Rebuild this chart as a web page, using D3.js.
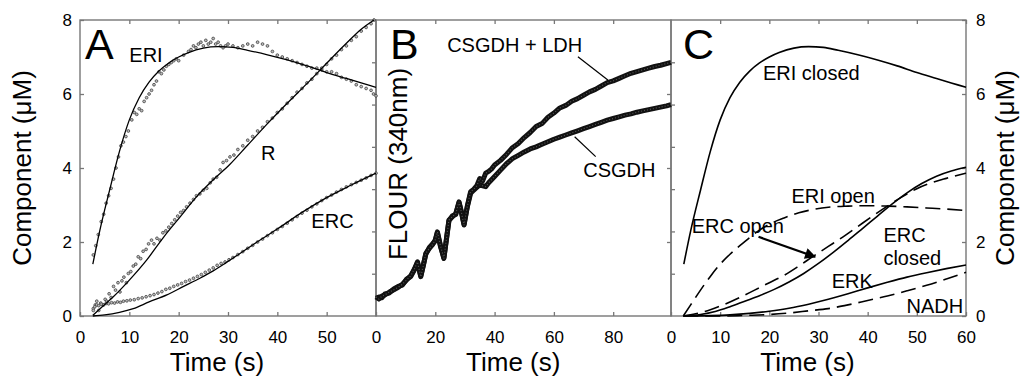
<!DOCTYPE html>
<html>
<head>
<meta charset="utf-8">
<script src="https://cdn.jsdelivr.net/npm/d3@7"></script>
<style>
  body { margin: 0; background: #fff; }
  text { font-family: "Liberation Sans", Arial, sans-serif; fill: #000; }
</style>
</head>
<body>
<svg id="chart" width="1021" height="381"></svg>
<script>
// ---- panel A: measured points [time s, µM] ----
const eriData = [[2.7,1.65],[3.2,1.9],[3.7,2.2],[4.3,2.55],[4.8,2.75],[5.3,3.05],[5.8,3.25],[6.3,3.45],[6.8,3.7],[7.3,4.0],
  [7.8,4.3],[8.3,4.6],[8.8,4.7],[9.3,4.85],[9.8,5.0],[10.5,5.3],[11,5.5],[11.5,5.45],[12,5.6],[12.5,5.55],[13,5.8],
  [13.5,5.9],[14,6.0],[14.5,6.1],[15,6.25],[15.5,6.35],[16,6.6],[16.5,6.55],[17,6.65],[17.5,6.75],[18,6.8],[18.5,6.85],
  [19,6.9],[19.5,6.95],[20,6.9],[21,7.05],[22,7.15],[22.5,7.2],[23,7.3],[23.5,7.25],[24,7.35],[24.5,7.4],[25,7.3],
  [25.5,7.45],[26,7.35],[26.5,7.4],[27,7.5],[27.5,7.35],[28,7.4],[28.5,7.3],[29,7.25],[29.5,7.3],[30,7.35],[31,7.3],
  [32,7.25],[33,7.3],[34,7.35],[35,7.3],[36,7.4],[37,7.35],[38,7.3],[39,7.15],[40,7.05],[41,7.0],[42,6.95],[43,6.9],
  [44,6.85],[45,6.8],[46,6.75],[47,6.7],[48,6.7],[49,6.65],[50,6.6],[51,6.6],[52,6.55],[53,6.45],[54,6.4],[55,6.35],
  [56,6.25],[57,6.2],[58,6.15],[59,6.1],[59.5,6.0],[60,5.95]];
const rData = [[2.7,0.2],[3.1,0.3],[3.4,0.4],[3.8,0.15],[4.2,0.35],[4.7,0.3],[5.1,0.45],[5.4,0.4],[5.9,0.6],[6.3,0.5],
  [6.8,0.8],[7.2,0.7],[7.7,0.9],[8.1,0.65],[8.5,0.95],[8.9,1.05],[9.4,0.9],[9.8,1.15],[10.3,1.2],[10.8,1.35],[11.3,1.4],
  [11.8,1.6],[12.3,1.55],[12.8,1.75],[13.4,1.8],[13.9,1.95],[14.5,2.05],[15,1.95],[15.6,2.1],[16.2,2.05],[16.8,2.25],
  [17.4,2.3],[18,2.4],[18.6,2.5],[19.2,2.6],[19.8,2.7],[20.4,2.8],[21,2.85],[21.6,2.95],[22.3,3.05],[23,3.15],
  [23.6,3.25],[24.3,3.3],[25,3.4],[25.7,3.45],[26.4,3.6],[27,3.7],[27.7,3.75],[28.4,3.95],[29,4.15],[29.7,4.2],
  [30.4,4.3],[31.2,4.35],[32,4.5],[33,4.6],[34,4.75],[35,4.85],[36,5.0],[37,5.1],[38,5.25],[39,5.35],[40,5.5],
  [41,5.6],[42,5.75],[43,5.9],[44,6.05],[45,6.15],[46,6.3],[47,6.4],[48,6.55],[49,6.7],[50,6.8],[51,6.95],[52,7.05],
  [53,7.2],[54,7.3],[55,7.45],[56,7.55],[57,7.7],[58,7.8],[59,7.9],[59.6,8.0]];
const ercData = [[2.7,0.15],[3,0.25],[3.4,0.3],[3.8,0.28],[4.3,0.32],[4.8,0.3],[5.3,0.34],[5.8,0.33],[6.4,0.36],[7,0.35],
  [7.6,0.38],[8.2,0.37],[8.8,0.4],[9.5,0.41],[10.2,0.43],[11,0.44],[11.8,0.47],[12.6,0.49],[13.4,0.52],[14.2,0.55],
  [15,0.58],[15.8,0.62],[16.6,0.66],[17.4,0.72],[18.2,0.75],[19,0.8],[19.8,0.84],[20.6,0.88],[21.4,0.93],[22.2,0.97],
  [23,1.02],[23.8,1.07],[24.6,1.12],[25.4,1.18],[26.2,1.24],[27,1.3],[27.8,1.37],[28.6,1.42],[29.4,1.46],[30.2,1.52],
  [31,1.58],[32,1.66],[33,1.74],[34,1.83],[35,1.91],[36,2.0],[37,2.08],[38,2.17],[39,2.25],[40,2.34],[41,2.42],
  [42,2.51],[43,2.6],[44,2.69],[45,2.78],[46,2.86],[47,2.95],[48,3.03],[49,3.12],[50,3.2],[51,3.27],[52,3.35],
  [53,3.42],[54,3.49],[55,3.55],[56,3.61],[57,3.67],[58,3.73],[59,3.8],[60,3.86]];

// ---- model curves (A fits, C closed/open components) ----
const eriFit = [[2.6,1.4],[4,2.3],[6,3.4],[8,4.45],[10,5.3],[12,5.9],[14,6.32],[16,6.62],[18,6.84],[20,7.0],[22,7.12],
  [25,7.24],[28,7.28],[31,7.26],[34,7.18],[38,7.06],[42,6.92],[46,6.76],[50,6.58],[54,6.42],[57,6.3],[60,6.18]];
const rFit = [[2.6,0.02],[4.5,0.25],[6.75,0.52],[10,0.97],[13.5,1.51],[17,2.14],[20.3,2.68],[23.6,3.22],[27,3.68],
  [30.4,4.1],[34,4.62],[38,5.2],[42,5.75],[46,6.28],[50,6.83],[54,7.37],[57,7.75],[59.6,8.0]];
const ercFit = [[2.6,0],[5,0.03],[8,0.1],[10.8,0.2],[14,0.38],[17.6,0.57],[21,0.8],[24.3,1.02],[27,1.22],[29.7,1.45],
  [35,1.92],[40,2.35],[45,2.8],[50,3.2],[55,3.54],[60,3.86]];
const ercClosed = [[2.5,0],[6,0.04],[9,0.12],[12,0.25],[15,0.4],[18,0.55],[21,0.72],[24,0.92],[27,1.15],[30,1.42],
  [33,1.72],[36,2.04],[39,2.37],[42,2.7],[45,3.03],[48,3.33],[51,3.58],[54,3.78],[57,3.92],[60,4.02]];
const ercOpen = [[2.5,0],[5,0.06],[8,0.17],[11,0.32],[14,0.5],[17,0.7],[20,0.9],[23,1.1],[26,1.35],[29,1.62],[32,1.88],
  [35,2.14],[38,2.42],[41,2.7],[44,2.97],[47,3.22],[50,3.44],[53,3.6],[56,3.72],[60,3.86]];
const eriOpen = [[2.5,0],[4,0.3],[6,0.7],[8,1.07],[10,1.4],[12,1.67],[14,1.9],[16,2.12],[18,2.32],[20,2.48],[23,2.65],
  [26,2.79],[29,2.88],[32,2.94],[36,2.97],[40,2.98],[44,2.97],[48,2.95],[52,2.92],[56,2.89],[60,2.85]];
const erk = [[2.5,0],[8,0.01],[12,0.03],[16,0.07],[20,0.13],[24,0.21],[28,0.32],[32,0.45],[36,0.6],[40,0.76],[44,0.91],
  [48,1.05],[52,1.17],[56,1.28],[60,1.38]];
const nadh = [[2.5,0],[10,0],[16,0.02],[20,0.04],[24,0.08],[28,0.14],[32,0.2],[36,0.3],[40,0.42],[44,0.54],[48,0.68],
  [52,0.83],[56,1.0],[60,1.18]];

// ---- panel B: fluorescence traces [time s, a.u.] ----
const csgdhLdh = [[0,0.45],[1,0.4],[2,0.47],[3,0.5],[4.4,0.56],[6,0.62],[7.5,0.68],[8.9,0.75],[10.3,0.85],[11.7,0.95],
  [13,1.12],[14,1.28],[15.1,0.93],[16,1.2],[16.8,1.48],[18,1.6],[19,1.68],[20,1.8],[20.7,1.99],[21.8,1.65],[22.9,1.36],
  [23.8,1.85],[24.6,2.27],[25.8,2.35],[26.9,2.42],[28,2.7],[28.8,2.45],[29.7,2.15],[30.8,2.6],[31.9,2.94],[33,3.0],
  [34,3.08],[35,3.25],[36,3.2],[37,3.38],[38,3.42],[39,3.48],[40,3.57],[42,3.68],[44,3.82],[46,3.98],[48,4.08],
  [50,4.22],[52,4.34],[54,4.48],[56,4.55],[58,4.7],[60,4.8],[62,4.92],[64,4.98],[66,5.08],[68,5.14],[70,5.22],
  [72,5.3],[74,5.36],[76,5.44],[78,5.52],[80,5.56],[82,5.62],[84,5.68],[86,5.74],[88,5.78],[90,5.82],[92,5.86],
  [94,5.9],[96,5.93],[98,5.97],[99.5,6.0]];
const csgdh = [[0,0.42],[1,0.45],[2,0.43],[3,0.52],[4.4,0.54],[6,0.64],[7.5,0.7],[8.9,0.73],[10.3,0.87],[11.7,0.93],
  [13,1.1],[14,1.26],[15.1,0.95],[16,1.22],[16.8,1.46],[18,1.62],[19,1.7],[20,1.78],[20.7,1.97],[21.8,1.63],[22.9,1.38],
  [23.8,1.83],[24.6,2.25],[25.8,2.37],[26.9,2.4],[28,2.68],[28.8,2.47],[29.7,2.17],[30.8,2.58],[31.9,2.9],[33,2.98],
  [34,3.04],[35,3.1],[36,3.08],[37,3.06],[38,3.15],[40,3.3],[42,3.45],[44,3.6],[46,3.72],[48,3.8],[50,3.88],[52,3.95],
  [54,4.0],[56,4.06],[58,4.12],[60,4.18],[62,4.23],[64,4.28],[66,4.33],[68,4.38],[70,4.43],[72,4.48],[74,4.53],
  [76,4.58],[78,4.63],[80,4.67],[82,4.71],[84,4.75],[86,4.78],[88,4.82],[90,4.85],[92,4.88],[94,4.91],[96,4.94],
  [98,4.97],[99.5,5.0]];

// ticks
const yTicksA = [0, 2, 4, 6, 8];
const xTicksA = [0, 10, 20, 30, 40, 50];
const xTicksB = [0, 20, 40, 60, 80];
const xTicksC = [0, 10, 20, 30, 40, 50, 60];
const yTicksB = [1, 2, 3, 4, 5, 6];

const svg = d3.select('#chart');
const plotTop = 20, plotBottom = 316;
const frameColor = '#777';

const xA = d3.scaleLinear().domain([0, 60]).range([80, 376]);
const xB = d3.scaleLinear().domain([0, 99.5]).range([376, 671]);
const xC = d3.scaleLinear().domain([0, 60]).range([671, 966]);
const yA = d3.scaleLinear().domain([0, 8]).range([plotBottom, plotTop]);
const yB = d3.scaleLinear().domain([0, 7]).range([plotBottom, plotTop]);

function styleAxis(g, labels) {
  g.select('.domain').remove();
  g.selectAll('.tick line').attr('stroke', frameColor).attr('stroke-width', 1.3);
  g.selectAll('text').style('font-size', '17px').style('font-family', '"Liberation Sans", Arial, sans-serif');
  if (!labels) g.selectAll('text').remove();
}

// bottom / top ticks
[[xA, xTicksA], [xB, xTicksB], [xC, xTicksC]].forEach(([x, ticks]) => {
  svg.append('g').attr('transform', `translate(0,${plotBottom})`)
    .call(d3.axisBottom(x).tickValues(ticks).tickSize(-4).tickPadding(15).tickFormat(d3.format('d')))
    .call(g => styleAxis(g, true));
  svg.append('g').attr('transform', `translate(0,${plotTop})`)
    .call(d3.axisTop(x).tickValues(ticks.filter(t => t > 0)).tickSize(-4))
    .call(g => styleAxis(g, false));
});

// left axis A, right axis C
svg.append('g').attr('transform', 'translate(80,0)')
  .call(d3.axisLeft(yA).tickValues(yTicksA).tickSize(-4).tickPadding(8))
  .call(g => styleAxis(g, true));
svg.append('g').attr('transform', 'translate(966,0)')
  .call(d3.axisRight(yA).tickValues(yTicksA).tickSize(-4).tickPadding(10))
  .call(g => styleAxis(g, true));

// unlabeled ticks on the shared borders
svg.append('g').attr('transform', 'translate(376,0)')
  .call(d3.axisLeft(yB).tickValues(yTicksB).tickSize(4))
  .call(g => styleAxis(g, false));
svg.append('g').attr('transform', 'translate(671,0)')
  .call(d3.axisRight(yB).tickValues(yTicksB).tickSize(4))
  .call(g => styleAxis(g, false));
svg.append('g').attr('transform', 'translate(671,0)')
  .call(d3.axisLeft(yA).tickValues([2, 4, 6]).tickSize(4))
  .call(g => styleAxis(g, false));

// frames
[[80, 376], [376, 671], [671, 966]].forEach(([l, r]) => {
  svg.append('rect').attr('x', l).attr('y', plotTop).attr('width', r - l).attr('height', plotBottom - plotTop)
    .attr('fill', 'none').attr('stroke', frameColor).attr('stroke-width', 1.4);
});

// ---- panel A ----
const lineA = d3.line().x(d => xA(d[0])).y(d => yA(d[1])).curve(d3.curveMonotoneX);
[eriData, rData, ercData].forEach(data => {
  svg.append('g').selectAll('circle').data(data).enter().append('circle')
    .attr('cx', d => xA(d[0])).attr('cy', d => yA(d[1])).attr('r', 1.4)
    .attr('fill', '#bbb').attr('stroke', '#333').attr('stroke-width', 0.7);
});
[eriFit, rFit, ercFit].forEach(data => {
  svg.append('path').datum(data).attr('d', lineA)
    .attr('fill', 'none').attr('stroke', '#000').attr('stroke-width', 1.3);
});

// ---- panel B ----
const lineB = d3.line().x(d => xB(d[0])).y(d => yB(d[1]));
[csgdh, csgdhLdh].forEach(data => {
  svg.append('path').datum(data).attr('d', lineB)
    .attr('fill', 'none').attr('stroke', '#111').attr('stroke-width', 5).attr('stroke-linejoin', 'round');
  svg.append('path').datum(data).attr('d', lineB)
    .attr('fill', 'none').attr('stroke', '#555').attr('stroke-width', 1.2).attr('stroke-dasharray', '1,2');
});
// leader lines
svg.append('line').attr('x1', xB(68.1)).attr('y1', yB(6.13)).attr('x2', xB(78.2)).attr('y2', yB(5.58))
  .attr('stroke', '#000').attr('stroke-width', 1.2);
svg.append('line').attr('x1', xB(74.1)).attr('y1', yB(3.77)).attr('x2', xB(67)).attr('y2', yB(4.24))
  .attr('stroke', '#000').attr('stroke-width', 1.2);

// ---- panel C ----
const lineC = d3.line().x(d => xC(d[0])).y(d => yA(d[1])).curve(d3.curveMonotoneX);
[[eriFit, false], [ercClosed, false], [erk, false], [eriOpen, true], [ercOpen, true], [nadh, true]].forEach(([data, dashed]) => {
  svg.append('path').datum(data).attr('d', lineC)
    .attr('fill', 'none').attr('stroke', '#000').attr('stroke-width', 1.6)
    .attr('stroke-dasharray', dashed ? '15,7' : null);
});
svg.append('defs').append('marker').attr('id', 'arrow').attr('viewBox', '0 0 10 10')
  .attr('refX', 9).attr('refY', 5).attr('markerWidth', 6).attr('markerHeight', 5)
  .attr('orient', 'auto').attr('markerUnits', 'strokeWidth')
  .append('path').attr('d', 'M0,0L10,5L0,10z').attr('fill', '#000');
svg.append('line').attr('x1', xC(17.8)).attr('y1', yA(2.14)).attr('x2', xC(29.3)).attr('y2', yA(1.6))
  .attr('stroke', '#000').attr('stroke-width', 2.2).attr('marker-end', 'url(#arrow)');

// ---- labels ----
const labelsA = [['ERI', 10.0, 6.86], ['R', 36.7, 4.22], ['ERC', 46.9, 2.37]];
const labelsB = [['CSGDH + LDH', 24.0, 6.25], ['CSGDH', 69.9, 3.29]];
const labelsC = [['ERI closed', 18.7, 6.38], ['ERI open', 24.5, 3.05], ['ERC open', 4.2, 2.24],
  ['ERC', 43.2, 1.99], ['closed', 43.2, 1.38], ['ERK', 32.7, 0.75], ['NADH', 47.9, 0.07]];
labelsA.forEach(([t, x, y]) => svg.append('text').attr('x', xA(x)).attr('y', yA(y)).style('font-size', '20px').text(t));
labelsB.forEach(([t, x, y]) => svg.append('text').attr('x', xB(x)).attr('y', yB(y)).style('font-size', '20px').text(t));
labelsC.forEach(([t, x, y]) => svg.append('text').attr('x', xC(x)).attr('y', yA(y)).style('font-size', '20px').text(t));

[['A', 85], ['B', 390], ['C', 683]].forEach(([t, x]) => {
  svg.append('text').attr('x', x).attr('y', 59).style('font-size', '43px').text(t);
});

// axis titles
[[xA, 30], [xB, 50], [xC, 30]].forEach(([x, mid]) => {
  svg.append('text').attr('x', x(mid) - 11).attr('y', 371).attr('text-anchor', 'middle')
    .style('font-size', '26px').text('Time (s)');
});
svg.append('text').attr('transform', 'translate(31,168) rotate(-90)').attr('text-anchor', 'middle')
  .style('font-size', '26px').text('Component (μM)');
svg.append('text').attr('transform', 'translate(1014,168) rotate(-90)').attr('text-anchor', 'middle')
  .style('font-size', '26px').text('Component (μM)');
svg.append('text').attr('transform', 'translate(407,164) rotate(-90)').attr('text-anchor', 'middle')
  .style('font-size', '26px').text('FLOUR (340nm)');
</script>
</body>
</html>
